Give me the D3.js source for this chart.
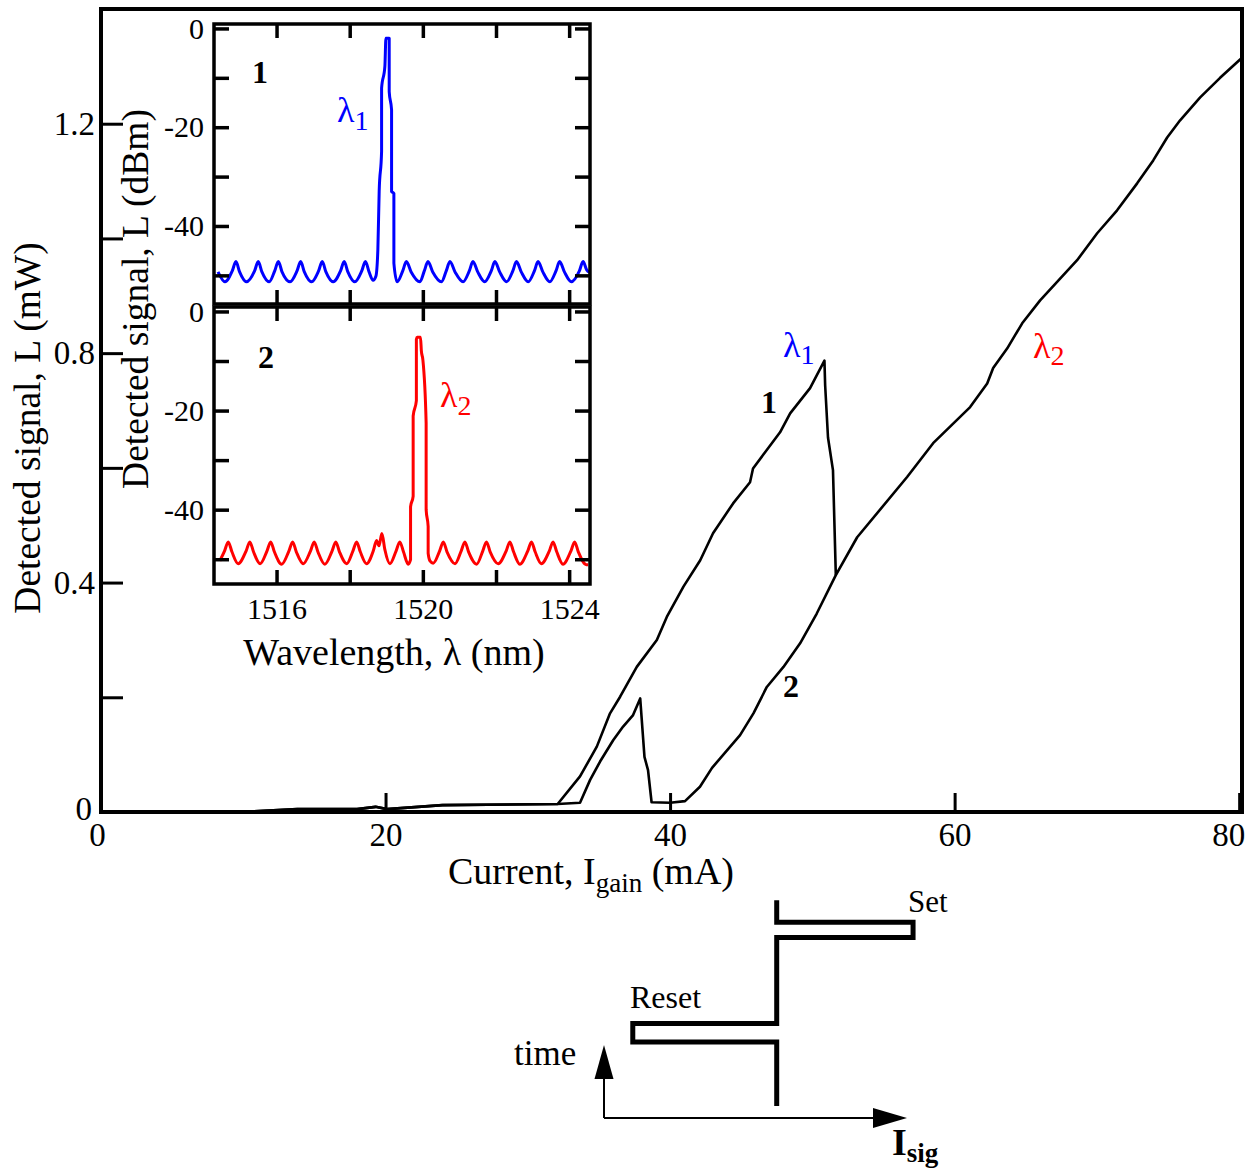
<!DOCTYPE html>
<html>
<head>
<meta charset="utf-8">
<script src="https://cdnjs.cloudflare.com/ajax/libs/d3/7.8.5/d3.min.js"></script>
<style>
  body { margin: 0; background: #fff; }
  text { font-family: "Liberation Serif", "Times New Roman", serif; fill: #000; }
</style>
</head>
<body>
<div class="chart"></div>
<script>
// ---- data ----

// main plot: [current (mA), detected signal L (mW)]
var curve1 = [
  [0, 0], [9.8, 0], [13.8, 0.005], [18.0, 0.005], [19.3, 0.009], [20.1, 0.005], [24.0, 0.012], [32.1, 0.014],
  [33.67, 0.062], [34.85, 0.114], [35.78, 0.172], [36.49, 0.201], [37.66, 0.253], [39.07, 0.300], [39.77, 0.340],
  [40.94, 0.393], [42.12, 0.439], [43.02, 0.486], [44.43, 0.538], [45.62, 0.575], [45.83, 0.599], [47.73, 0.662],
  [48.44, 0.695], [49.84, 0.739], [50.85, 0.787], [50.9, 0.744], [51.1, 0.653], [51.45, 0.596], [51.65, 0.413]
];

var curve2 = [
  [0, 0], [9.8, 0], [13.8, 0.005], [18.0, 0.005], [19.3, 0.009], [20.1, 0.005], [24.0, 0.012], [32.1, 0.014],
  [33.67, 0.016], [34.38, 0.056], [35.08, 0.088], [36.0, 0.125], [36.7, 0.149], [37.4, 0.169], [37.9, 0.198],
  [38.2, 0.096], [38.45, 0.073], [38.7, 0.017], [40.0, 0.016], [41.05, 0.019], [42.1, 0.044], [42.95, 0.077],
  [44.92, 0.134], [45.86, 0.172], [46.8, 0.218], [47.97, 0.253], [49.14, 0.294], [50.31, 0.346], [51.65, 0.413],
  [53.15, 0.479], [56.66, 0.584], [58.49, 0.643], [61.09, 0.706], [62.29, 0.747], [62.71, 0.774], [63.69, 0.808],
  [64.75, 0.852], [66.01, 0.892], [68.61, 0.962], [70.02, 1.009], [71.42, 1.049], [72.83, 1.096], [73.96, 1.136],
  [74.94, 1.176], [75.85, 1.206], [77.26, 1.246], [78.66, 1.280], [80.2, 1.315]
];

var mainXTicks = [0, 20, 40, 60, 80];
var mainYTicks = [0, 0.2, 0.4, 0.6, 0.8, 1.0, 1.2];
var mainYLabels = [0, 0.4, 0.8, 1.2];

// inset spectra: [wavelength (nm), level (dBm)]
var spectrum1 = [
  [1514.40, -49.3], [1514.59, -51.3], [1514.79, -49.1], [1514.89, -47.2], [1514.99, -49.3],
  [1515.18, -51.3], [1515.40, -49.1], [1515.50, -47.2], [1515.60, -49.3], [1515.80, -51.3],
  [1515.95, -49.1], [1516.05, -47.2], [1516.15, -49.3], [1516.37, -51.3], [1516.56, -49.1],
  [1516.66, -47.2], [1516.76, -49.3], [1516.96, -51.3], [1517.15, -49.1], [1517.25, -47.2],
  [1517.35, -49.3], [1517.55, -51.3], [1517.75, -49.1], [1517.85, -47.2], [1517.95, -49.3],
  [1518.14, -51.3], [1518.33, -49.1], [1518.43, -47.2], [1518.53, -49.3], [1518.64, -51.0],
  [1518.716, -50.2], [1518.77, -44.8], [1518.806, -33.0], [1518.872, -24.9], [1518.872, -12.1],
  [1518.962, -7.7], [1518.990, -2.0], [1519.080, -2.0], [1519.080, -12.8], [1519.145, -16.5],
  [1519.145, -33.0], [1519.208, -33.4], [1519.208, -47.5], [1519.298, -51.3],
  [1519.45, -49.1], [1519.55, -47.2], [1519.68, -49.3], [1519.92, -51.3],
  [1520.04, -49.1], [1520.14, -47.2], [1520.27, -49.3], [1520.51, -51.3],
  [1520.64, -49.1], [1520.74, -47.2], [1520.88, -49.3], [1521.10, -51.3],
  [1521.27, -49.1], [1521.37, -47.2], [1521.50, -49.3], [1521.69, -51.3],
  [1521.87, -49.1], [1521.97, -47.2], [1522.10, -49.3], [1522.29, -51.3],
  [1522.46, -49.1], [1522.56, -47.2], [1522.69, -49.3], [1522.88, -51.3],
  [1523.05, -49.1], [1523.15, -47.2], [1523.28, -49.3], [1523.47, -51.3],
  [1523.64, -49.1], [1523.74, -47.2], [1523.87, -49.3], [1524.06, -51.3],
  [1524.28, -49.1], [1524.38, -47.2], [1524.48, -48.9], [1524.56, -49.4]
];

var spectrum2 = [
  [1514.45, -50.3],
  [1514.58, -48.3], [1514.68, -46.5], [1514.78, -48.5], [1514.95, -50.9],
  [1515.17, -48.3], [1515.27, -46.5], [1515.37, -48.5], [1515.55, -50.9],
  [1515.74, -48.3], [1515.84, -46.5], [1515.94, -48.5], [1516.14, -51.0],
  [1516.34, -48.3], [1516.44, -46.5], [1516.54, -48.5], [1516.73, -50.9],
  [1516.93, -48.3], [1517.03, -46.5], [1517.13, -48.5], [1517.32, -51.0],
  [1517.52, -48.3], [1517.62, -46.5], [1517.72, -48.5], [1517.92, -50.9],
  [1518.09, -48.3], [1518.19, -46.5], [1518.29, -48.5], [1518.46, -50.9],
  [1518.65, -48.2], [1518.735, -46.2], [1518.80, -47.3], [1518.88, -44.8], [1518.96, -48.0], [1519.10, -50.9],
  [1519.27, -48.3], [1519.37, -46.5], [1519.47, -48.5], [1519.60, -51.0],
  [1519.664, -50.1], [1519.664, -39.4], [1519.735, -37.3], [1519.735, -21.1], [1519.823, -18.0],
  [1519.823, -5.6], [1519.845, -5.2], [1519.935, -5.2], [1519.96, -8.0], [1520.00, -9.7],
  [1520.09, -22.5], [1520.09, -40.0], [1520.145, -43.4], [1520.145, -48.8], [1520.20, -50.4], [1520.282, -50.8],
  [1520.46, -48.3], [1520.56, -46.5], [1520.66, -48.5], [1520.88, -50.9],
  [1521.05, -48.3], [1521.15, -46.5], [1521.25, -48.5], [1521.47, -51.0],
  [1521.64, -48.3], [1521.74, -46.5], [1521.84, -48.5], [1522.06, -50.9],
  [1522.28, -48.3], [1522.38, -46.5], [1522.48, -48.5], [1522.65, -51.0],
  [1522.87, -48.3], [1522.97, -46.5], [1523.07, -48.5], [1523.24, -50.9],
  [1523.46, -48.3], [1523.56, -46.5], [1523.66, -48.5], [1523.83, -51.0],
  [1524.05, -48.3], [1524.15, -46.5], [1524.25, -48.5], [1524.47, -51.1], [1524.52, -51.1]
];

var insetXTicks = [1516, 1518, 1520, 1522, 1524];
var insetXLabels = [1516, 1520, 1524];
var insetYTicks = [0, -10, -20, -30, -40, -50];
var insetYLabels = [0, -20, -40];

// schematic below the chart: [I_sig, time] in arbitrary units
var switchLoop = [[5.7, 9.9], [5.7, 8.9], [10.2, 8.9], [10.2, 8.2], [5.7, 8.2], [5.7, 4.3],
  [0.95, 4.3], [0.95, 3.45], [5.7, 3.45], [5.7, 0.55]];

// ---- drawing ----
var svgWidth = 1259;
var svgHeight = 1173;

var svg = d3.select(".chart")
  .append("svg")
  .attr("width", svgWidth)
  .attr("height", svgHeight);

var x = d3.scaleLinear().domain([0, 80.2]).range([101, 1242]);
var y = d3.scaleLinear().domain([0, 1.4]).range([812, 9]);

var mainLine = d3.line().x(d => x(d[0])).y(d => y(d[1]));

[curve1, curve2].forEach(function(c) {
  svg.append("path")
    .datum(c)
    .attr("d", mainLine)
    .attr("fill", "none")
    .attr("stroke", "#000")
    .attr("stroke-width", 2.6)
    .attr("stroke-linejoin", "round");
});

// bottom axis
var gx = svg.append("g")
  .attr("transform", `translate(0, ${y(0)})`)
  .call(d3.axisBottom(x).tickValues(mainXTicks).tickSizeInner(-19).tickSizeOuter(0)
    .tickPadding(11).tickFormat(d => String(d)));
gx.select(".domain").remove();
gx.selectAll("line").attr("stroke-width", 3);
gx.selectAll("text").attr("font-size", 33)
  .attr("dx", d => d === 80 ? -11 : (d === 0 ? -4 : 0));

// left axis
var gy = svg.append("g")
  .attr("transform", `translate(${x(0)}, 0)`)
  .call(d3.axisLeft(y).tickValues(mainYTicks).tickSizeInner(-22).tickSizeOuter(0)
    .tickPadding(6).tickFormat(d => mainYLabels.indexOf(d) >= 0 ? String(d) : ""));
gy.select(".domain").remove();
gy.selectAll("line").attr("stroke-width", 3);
gy.selectAll("text").attr("font-size", 33)
  .attr("dx", d => d === 0 ? -3 : 0)
  .attr("dy", d => d === 0 ? "0.22em" : "0.32em");

// frame
svg.append("rect")
  .attr("x", x(0)).attr("y", y(1.4))
  .attr("width", x(80.2) - x(0)).attr("height", y(0) - y(1.4))
  .attr("fill", "none").attr("stroke", "#000").attr("stroke-width", 4);

// axis titles
var xTitle = svg.append("text")
  .attr("x", 591).attr("y", 884)
  .attr("text-anchor", "middle")
  .attr("font-size", 38);
xTitle.append("tspan").text("Current, I");
xTitle.append("tspan").attr("font-size", 27).attr("dy", 8).text("gain");
xTitle.append("tspan").attr("dy", -8).text(" (mA)");

svg.append("text")
  .attr("transform", "rotate(-90)")
  .attr("x", -428).attr("y", 40)
  .attr("text-anchor", "middle")
  .attr("font-size", 37.5)
  .text("Detected signal, L (mW)");

// curve annotations
function lambdaLabel(px, py, sub, color, size) {
  var t = svg.append("text").attr("x", px).attr("y", py)
    .attr("font-size", size).style("fill", color);
  t.append("tspan").text("λ");
  t.append("tspan").attr("font-size", size * 0.78).attr("dy", 7).text(sub);
}

lambdaLabel(783, 357, "1", "#0000ff", 36);
lambdaLabel(1033, 358, "2", "#ff0000", 36);

svg.append("text").attr("x", 769).attr("y", 413).attr("text-anchor", "middle")
  .attr("font-size", 32).attr("font-weight", "bold").text("1");
svg.append("text").attr("x", 791).attr("y", 697).attr("text-anchor", "middle")
  .attr("font-size", 32).attr("font-weight", "bold").text("2");

// ---- inset spectra ----
var wl = d3.scaleLinear().domain([1514.29, 1524.57]).range([214, 590]);

var panels = [
  { data: spectrum1, color: "#0000ff", top: 24, bottom: 304, domain: [-55.8, 0.9],
    num: "1", numX: 260, numY: 83, lamX: 337, lamY: 122, sub: "1", xLabels: false },
  { data: spectrum2, color: "#ff0000", top: 307, bottom: 584, domain: [-55.0, 0.9],
    num: "2", numX: 266, numY: 368, lamX: 440, lamY: 407, sub: "2", xLabels: true }
];

panels.forEach(function(p) {
  var yy = d3.scaleLinear().domain(p.domain).range([p.bottom, p.top]);
  var g = svg.append("g");

  g.append("path")
    .datum(p.data)
    .attr("d", d3.line().curve(d3.curveMonotoneX).x(d => wl(d[0])).y(d => yy(d[1])))
    .attr("fill", "none")
    .attr("stroke", p.color)
    .attr("stroke-width", 3)
    .attr("stroke-linejoin", "round");

  var axes = [
    g.append("g").attr("transform", `translate(0, ${p.bottom})`)
      .call(d3.axisBottom(wl).tickValues(insetXTicks).tickSizeInner(-14).tickSizeOuter(0).tickPadding(14)
        .tickFormat(d => p.xLabels && insetXLabels.indexOf(d) >= 0 ? String(d) : "")),
    g.append("g").attr("transform", `translate(0, ${p.top})`)
      .call(d3.axisTop(wl).tickValues(insetXTicks).tickSizeInner(-14).tickSizeOuter(0).tickFormat("")),
    g.append("g").attr("transform", `translate(${wl.range()[0]}, 0)`)
      .call(d3.axisLeft(yy).tickValues(insetYTicks).tickSizeInner(-15).tickSizeOuter(0).tickPadding(10)
        .tickFormat(d => insetYLabels.indexOf(d) >= 0 ? String(d) : "")),
    g.append("g").attr("transform", `translate(${wl.range()[1]}, 0)`)
      .call(d3.axisRight(yy).tickValues(insetYTicks).tickSizeInner(-15).tickSizeOuter(0).tickFormat(""))
  ];
  axes.forEach(function(a) {
    a.select(".domain").remove();
    a.selectAll("line").attr("stroke-width", 3.5);
    a.selectAll("text").attr("font-size", 30);
  });

  g.append("rect")
    .attr("x", wl.range()[0]).attr("y", p.top)
    .attr("width", wl.range()[1] - wl.range()[0]).attr("height", p.bottom - p.top)
    .attr("fill", "none").attr("stroke", "#000").attr("stroke-width", 3.5);

  g.append("text").attr("x", p.numX).attr("y", p.numY).attr("text-anchor", "middle")
    .attr("font-size", 32).attr("font-weight", "bold").text(p.num);

  var t = g.append("text").attr("x", p.lamX).attr("y", p.lamY)
    .attr("font-size", 36).style("fill", p.color);
  t.append("tspan").text("λ");
  t.append("tspan").attr("font-size", 28).attr("dy", 8).text(p.sub);
});

svg.append("text")
  .attr("x", 394).attr("y", 665)
  .attr("text-anchor", "middle")
  .attr("font-size", 38)
  .text("Wavelength, λ (nm)");

svg.append("text")
  .attr("transform", "rotate(-90)")
  .attr("x", -299).attr("y", 148)
  .attr("text-anchor", "middle")
  .attr("font-size", 37.5)
  .text("Detected signal, L (dBm)");

// ---- set / reset schematic ----
var sx = d3.scaleLinear().domain([0, 10]).range([604, 907]);
var st = d3.scaleLinear().domain([0, 10]).range([1118, 898]);

svg.append("path")
  .datum(switchLoop)
  .attr("d", d3.line().x(d => sx(d[0])).y(d => st(d[1])))
  .attr("fill", "none")
  .attr("stroke", "#000")
  .attr("stroke-width", 5)
  .attr("stroke-linejoin", "miter");

// time axis (up) and I_sig axis (right)
var ox = sx(0), oy = st(0);
var tipT = st(3.32), tipI = sx(10);
svg.append("line").attr("x1", ox).attr("y1", oy).attr("x2", ox).attr("y2", tipT + 30)
  .attr("stroke", "#000").attr("stroke-width", 2);
svg.append("line").attr("x1", ox).attr("y1", oy).attr("x2", tipI - 30).attr("y2", oy)
  .attr("stroke", "#000").attr("stroke-width", 2);
svg.append("path")
  .attr("d", `M${ox},${tipT} L${ox - 9.5},${tipT + 34} L${ox + 9.5},${tipT + 34} Z`)
  .attr("fill", "#000");
svg.append("path")
  .attr("d", `M${tipI},${oy} L${tipI - 34},${oy - 10} L${tipI - 34},${oy + 10} Z`)
  .attr("fill", "#000");

svg.append("text").attr("x", 908).attr("y", 912).attr("font-size", 31).text("Set");
svg.append("text").attr("x", 630).attr("y", 1008).attr("font-size", 32).text("Reset");
svg.append("text").attr("x", 514).attr("y", 1065).attr("font-size", 35).text("time");

var isig = svg.append("text").attr("x", 892).attr("y", 1155)
  .attr("font-size", 38).attr("font-weight", "bold");
isig.append("tspan").text("I");
isig.append("tspan").attr("font-size", 27).attr("dy", 7).text("sig");
</script>
</body>
</html>
